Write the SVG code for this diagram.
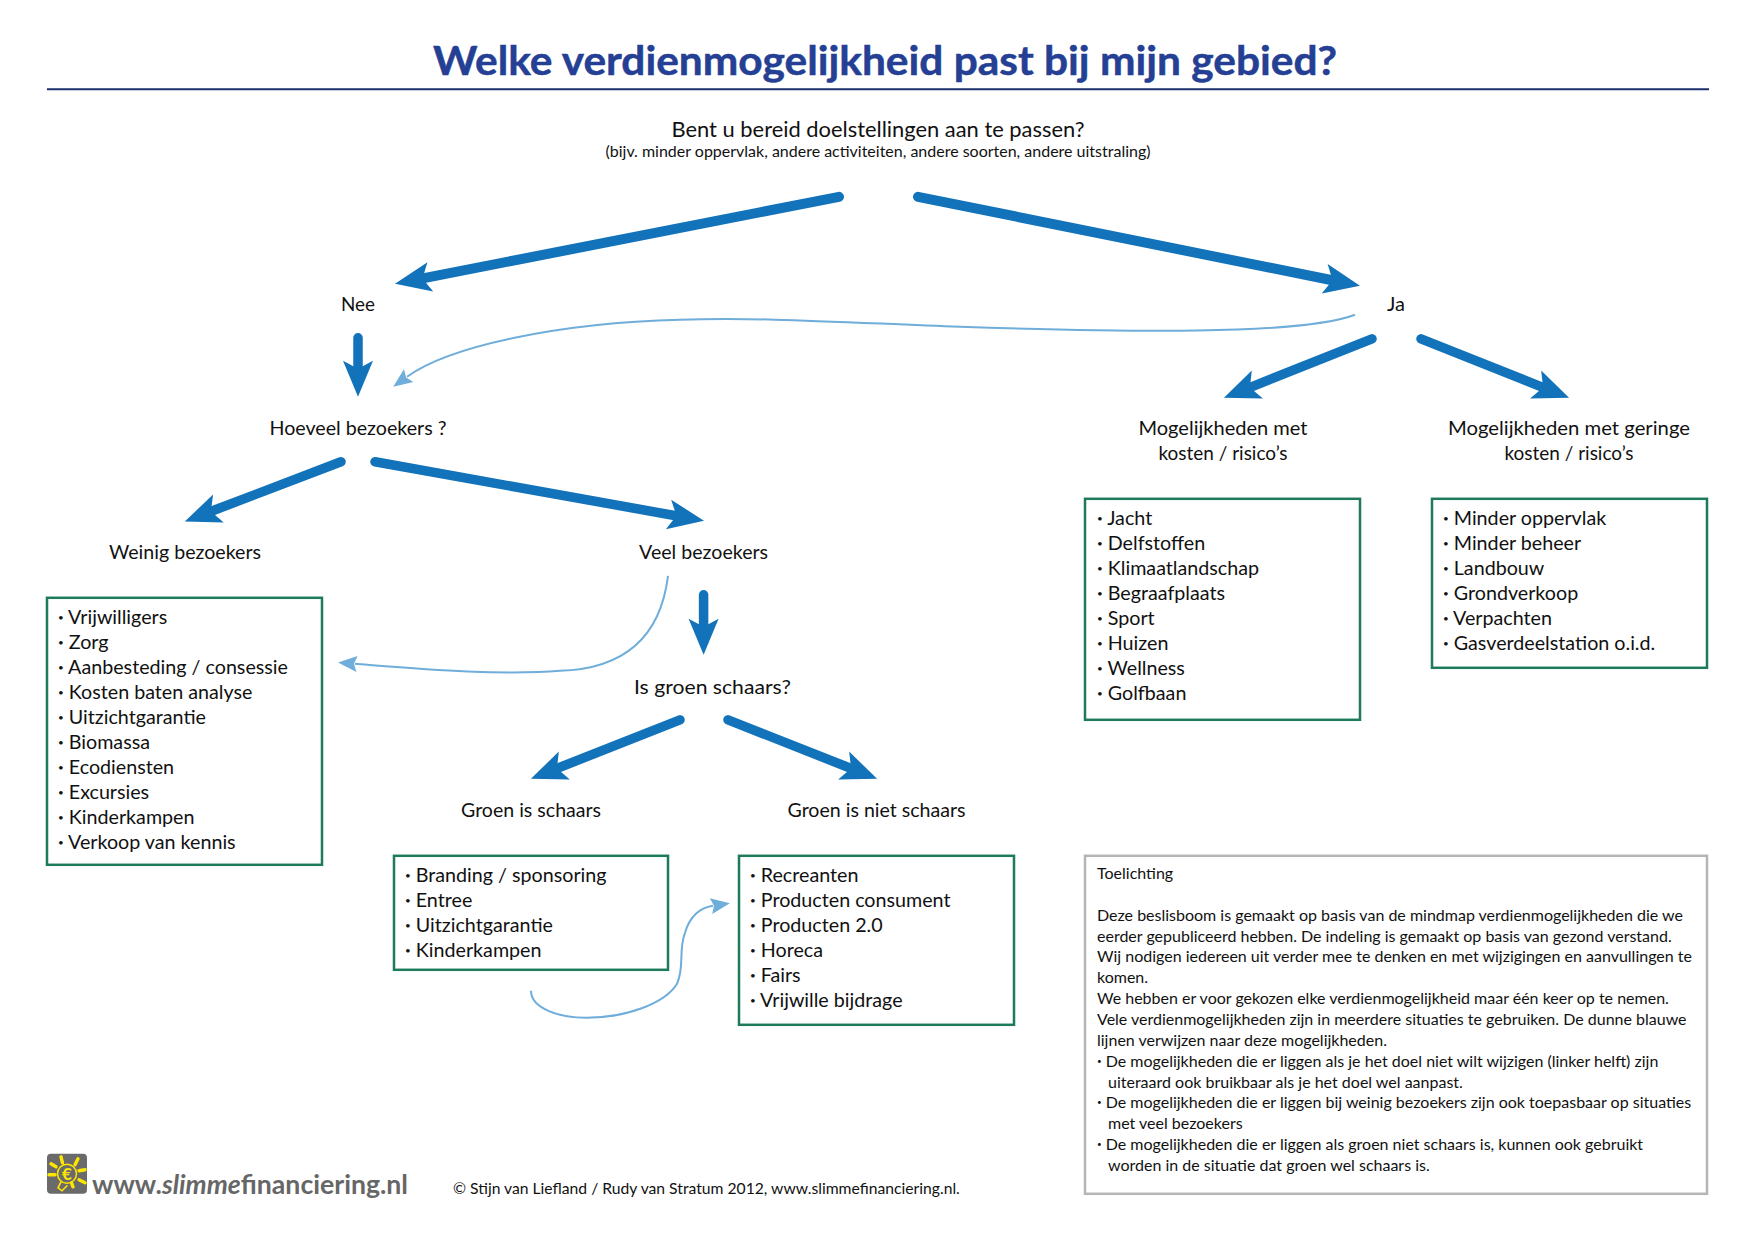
<svg xmlns="http://www.w3.org/2000/svg" width="1754" height="1240" viewBox="0 0 1754 1240">
<style>
text{font-family:"Lato","Open Sans","Liberation Sans",sans-serif;fill:#111}
.title{font-size:41px;font-weight:700;fill:#243f93;text-anchor:middle;stroke:#243f93;stroke-width:.5}
.q{font-size:20px;text-anchor:middle}
.sub{font-size:16px;text-anchor:middle}
.l{font-size:19.7px}
.t{font-size:16px}
.b{font-size:.5em;baseline-shift:3px}
.box{fill:#fff;stroke:#1d7a5a;stroke-width:2.5}
.note{fill:#fff;stroke:#b5b5b5;stroke-width:2.5}
.big{fill:none;stroke:#1273bb;stroke-linecap:round;marker-end:url(#bh)}
.thin{fill:none;stroke:#6fadda;stroke-width:2;marker-end:url(#th)}
</style>
<defs>
<marker id="bh" markerUnits="userSpaceOnUse" viewBox="-12 -18 42 36" markerWidth="42" markerHeight="36" refX="0" refY="0" orient="auto"><path d="M27,0L-9,-15L-1,0L-9,15Z" fill="#1273bb"/></marker>
<marker id="th" markerUnits="userSpaceOnUse" viewBox="-4 -10 24 20" markerWidth="24" markerHeight="20" refX="0" refY="0" orient="auto"><path d="M17,0L-2,-8L1,0L-2,8Z" fill="#6fadda"/></marker>
</defs>
<rect width="1754" height="1240" fill="#fff"/>
<g transform="translate(0,0.8)">
<g id="header">
<text class="title" x="885" y="74" textLength="904" lengthAdjust="spacingAndGlyphs">Welke verdienmogelijkheid past bij mijn gebied?</text>
<line x1="47" y1="88.5" x2="1709" y2="88.5" stroke="#1c2f6e" stroke-width="2"/>
</g>
<g id="connectors">
<path class="big" stroke-width="10" d="M839,196L421.5,277.8"/>
<path class="big" stroke-width="10" d="M918,196L1333.5,279.7"/>
<path class="big" stroke-width="9.5" d="M358,337V369"/>
<path class="big" stroke-width="9.5" d="M1372,338L1249,387"/>
<path class="big" stroke-width="9.5" d="M1421,338L1544,387"/>
<path class="big" stroke-width="9.5" d="M341,461L210,511"/>
<path class="big" stroke-width="9.5" d="M375,461L677.4,515.2"/>
<path class="big" stroke-width="9.5" d="M703.6,594V627"/>
<path class="big" stroke-width="9.5" d="M680,719L556,768"/>
<path class="big" stroke-width="9.5" d="M728,719L852,768"/>
<path class="thin" d="M1355,314C1300,335 1120,331 960,326C850,322 760,316 680,319C560,322 450,345 407,376"/>
<path class="thin" d="M668,575C660,640 620,668 560,670C500,675 420,668 355,663"/>
<path class="thin" d="M531,990C531,1008 560,1017 587,1017C625,1017 665,1003 677,983C685,965 678,950 685,932C690,915 700,907 713,905"/>
</g>
<g id="n-question"><text class="q" x="878" y="136.5" style="font-size:21.6px" textLength="413" lengthAdjust="spacingAndGlyphs">Bent u bereid doelstellingen aan te passen?</text><text class="sub" x="878" y="156" textLength="545" lengthAdjust="spacingAndGlyphs">(bijv. minder oppervlak, andere activiteiten, andere soorten, andere uitstraling)</text></g>
<g id="n-nee"><text class="q" x="358" y="310.5" textLength="34" lengthAdjust="spacingAndGlyphs">Nee</text></g>
<g id="n-ja"><text class="q" x="1396" y="310.5">Ja</text></g>
<g id="n-hoeveel"><text class="q" x="358" y="434.5" textLength="177" lengthAdjust="spacingAndGlyphs">Hoeveel bezoekers ?</text></g>
<g id="n-mk"><text class="q" x="1223" y="434.5" textLength="169" lengthAdjust="spacingAndGlyphs">Mogelijkheden met</text><text class="q" x="1223" y="459" textLength="129" lengthAdjust="spacingAndGlyphs">kosten / risico’s</text></g>
<g id="n-mg"><text class="q" x="1569" y="434.5" textLength="242" lengthAdjust="spacingAndGlyphs">Mogelijkheden met geringe</text><text class="q" x="1569" y="459" textLength="129" lengthAdjust="spacingAndGlyphs">kosten / risico’s</text></g>
<g id="n-weinig"><text class="q" x="185" y="558.5" textLength="152" lengthAdjust="spacingAndGlyphs">Weinig bezoekers</text></g>
<g id="n-veel"><text class="q" x="703.6" y="558.5" textLength="129" lengthAdjust="spacingAndGlyphs">Veel bezoekers</text></g>
<g id="n-schaars"><text class="q" x="712.5" y="693.5" textLength="157" lengthAdjust="spacingAndGlyphs">Is groen schaars?</text></g>
<g id="n-gs"><text class="q" x="531" y="816.5" textLength="140" lengthAdjust="spacingAndGlyphs">Groen is schaars</text></g>
<g id="n-gns"><text class="q" x="876.5" y="816.5" textLength="178" lengthAdjust="spacingAndGlyphs">Groen is niet schaars</text></g>
<g id="list-weinig"><rect class="box" x="47" y="597" width="275" height="267"/>
<text class="l" y="623.5"><tspan x="58"><tspan class="b">•</tspan> Vrijwilligers</tspan><tspan x="58" dy="25"><tspan class="b">•</tspan> Zorg</tspan><tspan x="58" dy="25"><tspan class="b">•</tspan> Aanbesteding / consessie</tspan><tspan x="58" dy="25"><tspan class="b">•</tspan> Kosten baten analyse</tspan><tspan x="58" dy="25"><tspan class="b">•</tspan> Uitzichtgarantie</tspan><tspan x="58" dy="25"><tspan class="b">•</tspan> Biomassa</tspan><tspan x="58" dy="25"><tspan class="b">•</tspan> Ecodiensten</tspan><tspan x="58" dy="25"><tspan class="b">•</tspan> Excursies</tspan><tspan x="58" dy="25"><tspan class="b">•</tspan> Kinderkampen</tspan><tspan x="58" dy="25"><tspan class="b">•</tspan> Verkoop van kennis</tspan></text></g>
<g id="list-gs"><rect class="box" x="394" y="855" width="274" height="114"/>
<text class="l" y="881.5"><tspan x="405"><tspan class="b">•</tspan> Branding / sponsoring</tspan><tspan x="405" dy="25"><tspan class="b">•</tspan> Entree</tspan><tspan x="405" dy="25"><tspan class="b">•</tspan> Uitzichtgarantie</tspan><tspan x="405" dy="25"><tspan class="b">•</tspan> Kinderkampen</tspan></text></g>
<g id="list-gns"><rect class="box" x="739" y="855" width="275" height="169"/>
<text class="l" y="881.5"><tspan x="750"><tspan class="b">•</tspan> Recreanten</tspan><tspan x="750" dy="25"><tspan class="b">•</tspan> Producten consument</tspan><tspan x="750" dy="25"><tspan class="b">•</tspan> Producten 2.0</tspan><tspan x="750" dy="25"><tspan class="b">•</tspan> Horeca</tspan><tspan x="750" dy="25"><tspan class="b">•</tspan> Fairs</tspan><tspan x="750" dy="25"><tspan class="b">•</tspan> Vrijwille bijdrage</tspan></text></g>
<g id="list-mk"><rect class="box" x="1085" y="498" width="275" height="221"/>
<text class="l" y="524.5"><tspan x="1097"><tspan class="b">•</tspan> Jacht</tspan><tspan x="1097" dy="25"><tspan class="b">•</tspan> Delfstoffen</tspan><tspan x="1097" dy="25"><tspan class="b">•</tspan> Klimaatlandschap</tspan><tspan x="1097" dy="25"><tspan class="b">•</tspan> Begraafplaats</tspan><tspan x="1097" dy="25"><tspan class="b">•</tspan> Sport</tspan><tspan x="1097" dy="25"><tspan class="b">•</tspan> Huizen</tspan><tspan x="1097" dy="25"><tspan class="b">•</tspan> Wellness</tspan><tspan x="1097" dy="25"><tspan class="b">•</tspan> Golfbaan</tspan></text></g>
<g id="list-mg"><rect class="box" x="1432" y="498" width="275" height="169"/>
<text class="l" y="524.5"><tspan x="1443"><tspan class="b">•</tspan> Minder oppervlak</tspan><tspan x="1443" dy="25"><tspan class="b">•</tspan> Minder beheer</tspan><tspan x="1443" dy="25"><tspan class="b">•</tspan> Landbouw</tspan><tspan x="1443" dy="25"><tspan class="b">•</tspan> Grondverkoop</tspan><tspan x="1443" dy="25"><tspan class="b">•</tspan> Verpachten</tspan><tspan x="1443" dy="25"><tspan class="b">•</tspan> Gasverdeelstation o.i.d.</tspan></text></g>
<g id="note"><rect class="note" x="1085" y="855" width="622" height="338"/>
<text class="t" y="878.5"><tspan x="1097">Toelichting</tspan><tspan x="1097" y="920">Deze beslisboom is gemaakt op basis van de mindmap verdienmogelijkheden die we</tspan><tspan x="1097" dy="20.85">eerder gepubliceerd hebben. De indeling is gemaakt op basis van gezond verstand.</tspan><tspan x="1097" dy="20.85">Wij nodigen iedereen uit verder mee te denken en met wijzigingen en aanvullingen te</tspan><tspan x="1097" dy="20.85">komen.</tspan><tspan x="1097" dy="20.85">We hebben er voor gekozen elke verdienmogelijkheid maar één keer op te nemen.</tspan><tspan x="1097" dy="20.85">Vele verdienmogelijkheden zijn in meerdere situaties te gebruiken. De dunne blauwe</tspan><tspan x="1097" dy="20.85">lijnen verwijzen naar deze mogelijkheden.</tspan><tspan x="1097" dy="20.85"><tspan class="b">•</tspan> De mogelijkheden die er liggen als je het doel niet wilt wijzigen (linker helft) zijn</tspan><tspan x="1108" dy="20.85">uiteraard ook bruikbaar als je het doel wel aanpast.</tspan><tspan x="1097" dy="20.85"><tspan class="b">•</tspan> De mogelijkheden die er liggen bij weinig bezoekers zijn ook toepasbaar op situaties</tspan><tspan x="1108" dy="20.85">met veel bezoekers</tspan><tspan x="1097" dy="20.85"><tspan class="b">•</tspan> De mogelijkheden die er liggen als groen niet schaars is, kunnen ook gebruikt</tspan><tspan x="1108" dy="20.85">worden in de situatie dat groen wel schaars is.</tspan></text></g>
<g id="logo">
<rect x="47" y="1153" width="40" height="40" rx="4" fill="#6a6a6a"/>
<g stroke="#ffe600" stroke-width="3.4" stroke-linecap="round" fill="none">
<path d="M61,1156l1.5,6M78,1158l-3,6M51,1163l5,3M85,1169l-6,1M49,1174h6M85,1182l-6,-3M73,1186l-1.5,-4"/>
<circle cx="67" cy="1173" r="9.5" stroke-width="1.5"/>
<path d="M61,1181l-3,6l4,3l5,-5" stroke-width="1.6"/>
</g>
<text x="67" y="1179" font-size="17" font-weight="700" text-anchor="middle" style="fill:#ffe600">€</text>
<text x="92" y="1193" font-size="26.6" font-weight="700" style="fill:#666" textLength="316" lengthAdjust="spacingAndGlyphs">www.<tspan font-style="italic">slimme</tspan>financiering.nl</text>
</g>
<g id="credit"><text x="453" y="1193" font-size="15.7">© Stijn van Liefland / Rudy van Stratum 2012, www.slimmefinanciering.nl.</text></g>
</g>
</svg>
